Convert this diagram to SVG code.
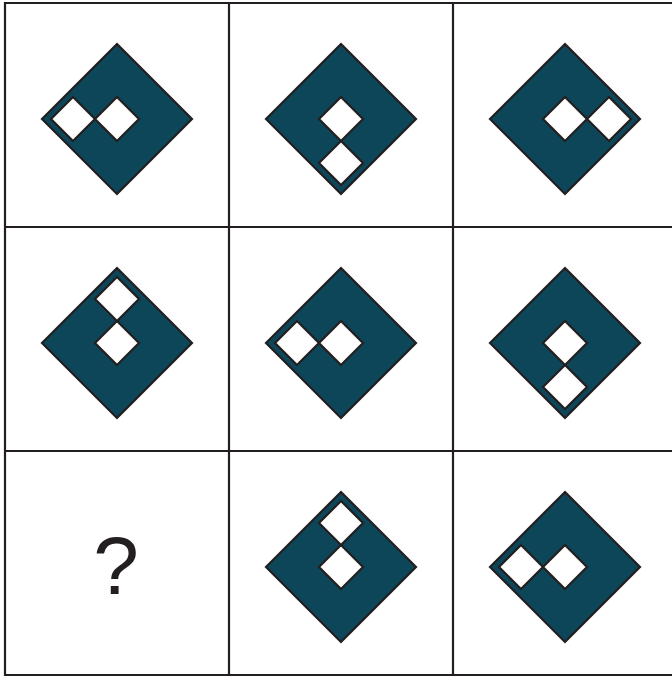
<svg xmlns="http://www.w3.org/2000/svg" xmlns:xlink="http://www.w3.org/1999/xlink" width="672" height="677" viewBox="0 0 672 677">
<style>
.grid{stroke:#231f20;stroke-width:2.2;fill:none}
.big{fill:#0d4659;stroke:#231f20;stroke-width:2.2;stroke-linejoin:miter}
.sm{fill:#ffffff;stroke:#231f20;stroke-width:2.2}
.q{font-family:"Liberation Sans",Arial,sans-serif;font-size:82px;fill:#231f20;text-anchor:middle}
</style>
<defs>
<path id="B" d="M0,-75 L75,0 L0,75 L-75,0 Z"/>
<path id="S" d="M0,-22 L22,0 L0,22 L-22,0 Z"/>
</defs>
<rect width="672" height="677" fill="#ffffff"/>
<g id="grid" class="grid">
<line x1="4" y1="3" x2="672" y2="3"/>
<line x1="4" y1="227" x2="672" y2="227"/>
<line x1="4" y1="451" x2="672" y2="451"/>
<line x1="4" y1="675" x2="672" y2="675"/>
<line x1="5" y1="2" x2="5" y2="676"/>
<line x1="229" y1="2" x2="229" y2="676"/>
<line x1="453" y1="2" x2="453" y2="676"/>
</g>
<g id="r1c1" transform="translate(117,119)"><use xlink:href="#B" class="big"/><use xlink:href="#S" class="sm"/><use xlink:href="#S" class="sm" x="-44" y="0"/></g>
<g id="r1c2" transform="translate(341,119)"><use xlink:href="#B" class="big"/><use xlink:href="#S" class="sm"/><use xlink:href="#S" class="sm" x="0" y="44"/></g>
<g id="r1c3" transform="translate(565,119)"><use xlink:href="#B" class="big"/><use xlink:href="#S" class="sm"/><use xlink:href="#S" class="sm" x="44" y="0"/></g>
<g id="r2c1" transform="translate(117,343)"><use xlink:href="#B" class="big"/><use xlink:href="#S" class="sm"/><use xlink:href="#S" class="sm" x="0" y="-44"/></g>
<g id="r2c2" transform="translate(341,343)"><use xlink:href="#B" class="big"/><use xlink:href="#S" class="sm"/><use xlink:href="#S" class="sm" x="-44" y="0"/></g>
<g id="r2c3" transform="translate(565,343)"><use xlink:href="#B" class="big"/><use xlink:href="#S" class="sm"/><use xlink:href="#S" class="sm" x="0" y="44"/></g>
<g id="r3c1"><text class="q" x="116" y="594">?</text></g>
<g id="r3c2" transform="translate(341,567)"><use xlink:href="#B" class="big"/><use xlink:href="#S" class="sm"/><use xlink:href="#S" class="sm" x="0" y="-44"/></g>
<g id="r3c3" transform="translate(565,567)"><use xlink:href="#B" class="big"/><use xlink:href="#S" class="sm"/><use xlink:href="#S" class="sm" x="-44" y="0"/></g>
</svg>
